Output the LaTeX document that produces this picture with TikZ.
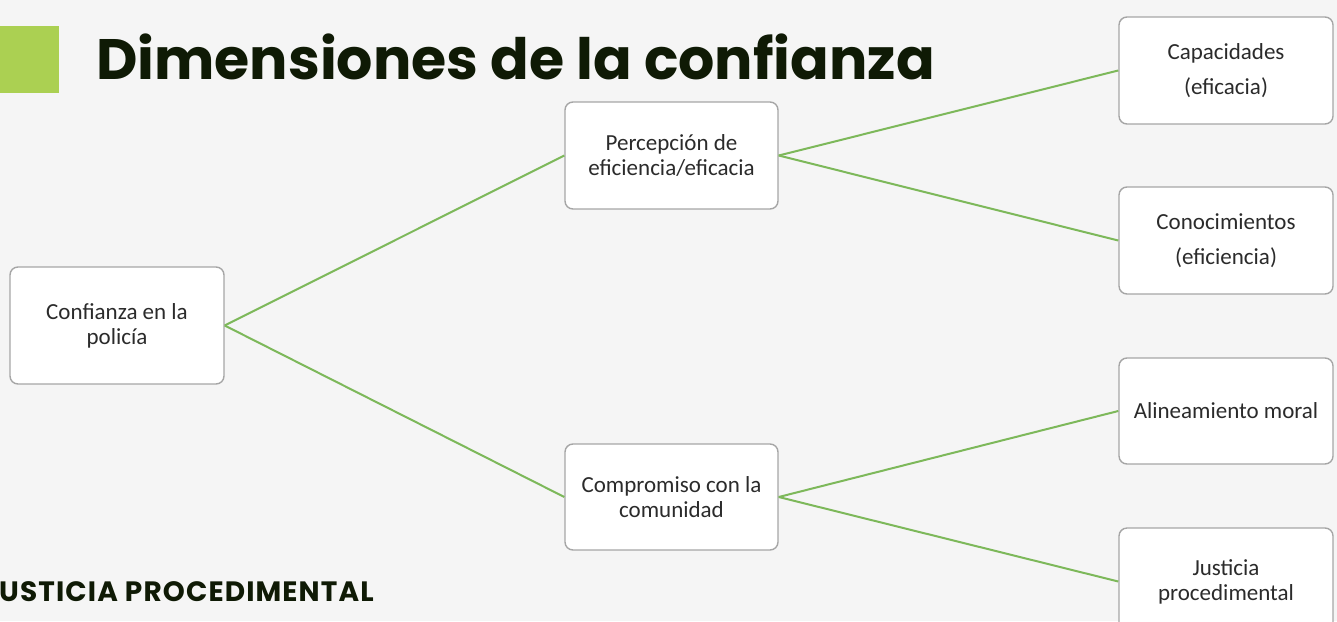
\documentclass[tikz,border=0pt]{standalone}
\usepackage{fontspec}
\setmainfont{Carlito}
\newfontfamily\titlefont{Poppins}
\newfontfamily\footfont[LetterSpace=4]{Poppins}
\begin{document}
\begin{tikzpicture}[x=1pt,y=-1pt,
  box/.style={draw=boxgray, line width=1.4pt, fill=white, rounded corners=8pt,
    align=center, text=textgray, inner sep=0pt, font=\fontsize{23}{25}\selectfont},
  link/.style={draw=linkgreen, line width=2pt}]
\definecolor{bg}{HTML}{F5F5F5}
\definecolor{boxgray}{HTML}{A6A6A6}
\definecolor{textgray}{HTML}{2B2B2B}
\definecolor{linkgreen}{HTML}{7DB85A}
\definecolor{squaregreen}{HTML}{ABD052}
\definecolor{titledark}{HTML}{0F1A05}
\useasboundingbox (0,0) rectangle (1337,621);
\fill[bg] (0,0) rectangle (1337,621);
\fill[squaregreen] (0,26) rectangle (59,93);
\node[anchor=base west, inner sep=0pt, text=titledark, font=\titlefont\bfseries\fontsize{57}{60}\selectfont] (title) at (96,79) {Dimensiones de la confianza};
\node[anchor=base west, inner sep=0pt, text=titledark, font=\footfont\bfseries\fontsize{28}{30}\selectfont] (foot) at (-1,601.5) {USTICIA PROCEDIMENTAL};
\node[box, minimum width=214pt, minimum height=117pt] (root) at (117,325.5) {Confianza en la\\policía};
\node[box, minimum width=213pt, minimum height=107pt] (perc) at (671.5,155.5) {Percepción de\\eficiencia/eficacia};
\node[box, minimum width=213pt, minimum height=106pt] (comp) at (671.5,497) {Compromiso con la\\comunidad};
\node[box, minimum width=214pt, minimum height=107pt, font=\fontsize{23}{35}\selectfont] (cap) at (1226,70.5) {Capacidades\\(eficacia)};
\node[box, minimum width=214pt, minimum height=107pt, font=\fontsize{23}{35}\selectfont] (con) at (1226,240.5) {Conocimientos\\(eficiencia)};
\node[box, minimum width=214pt, minimum height=106pt] (ali) at (1226,411) {Alineamiento moral};
\node[box, minimum width=214pt, minimum height=107pt] (jus) at (1226,581.5) {Justicia\\procedimental};
\draw[link] (root.east) -- (perc.west);
\draw[link] (root.east) -- (comp.west);
\draw[link] (perc.east) -- (cap.west);
\draw[link] (perc.east) -- (con.west);
\draw[link] (comp.east) -- (ali.west);
\draw[link] (comp.east) -- (jus.west);
\end{tikzpicture}
\end{document}
